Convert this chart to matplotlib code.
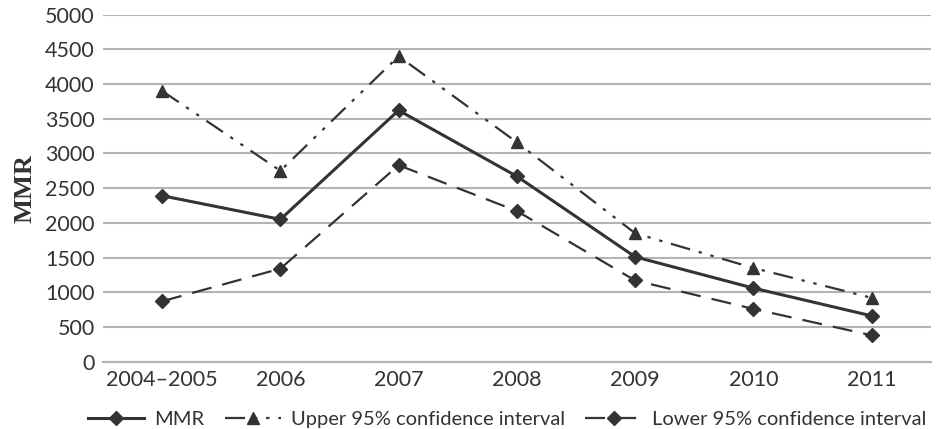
import matplotlib
matplotlib.use("Agg")
import matplotlib.pyplot as plt

YEARS = ["2004\u20132005", "2006", "2007", "2008", "2009", "2010", "2011"]
MMR = [2390, 2050, 3620, 2670, 1510, 1060, 660]
UPPER = [3900, 2750, 4400, 3160, 1850, 1350, 920]
LOWER = [870, 1340, 2830, 2170, 1170, 760, 380]

INK = "#333333"
GRID = "#b4b4b4"

plt.rcParams["font.family"] = ["Lato", "DejaVu Sans"]

fig = plt.figure(figsize=(9.48, 4.29), dpi=100)
ax = fig.add_axes([0.1087, 0.157, 0.873, 0.809])

x = range(len(YEARS))
ax.plot(x, MMR, color=INK, lw=2.2, marker="D", ms=7, label="MMR")
ax.plot(x, UPPER, color=INK, lw=1.6, marker="^", ms=9,
        dashes=(9, 4, 1.5, 4, 1.5, 4), label="Upper 95% confidence interval")
ax.plot(x, LOWER, color=INK, lw=1.6, marker="D", ms=7,
        dashes=(9, 5), label="Lower 95% confidence interval")

ax.set_xlim(-0.5, len(YEARS) - 0.5)
ax.set_ylim(0, 5000)
ax.set_yticks(range(0, 5001, 500))
ax.set_xticks(list(x))
ax.set_xticklabels(YEARS)
ax.yaxis.grid(True, color=GRID, lw=1.5)
ax.set_axisbelow(True)
for s in ["left", "right", "top"]:
    ax.spines[s].set_visible(False)
ax.spines["bottom"].set_color(GRID)
ax.spines["bottom"].set_linewidth(1.5)
ax.tick_params(axis="both", length=0, labelsize=15.5, colors=INK, pad=6)
ax.tick_params(axis="x", pad=6)

ax.set_ylabel("MMR", fontsize=19, fontweight="bold", color=INK,
              family="Liberation Serif", labelpad=6)

fig.legend(loc="lower center", bbox_to_anchor=(0.535, -0.04), ncol=3,
           frameon=False, fontsize=14.5, handlelength=2.8, columnspacing=1.0,
           handletextpad=0.5, labelcolor=INK)

fig.savefig("out.png", dpi=100)
